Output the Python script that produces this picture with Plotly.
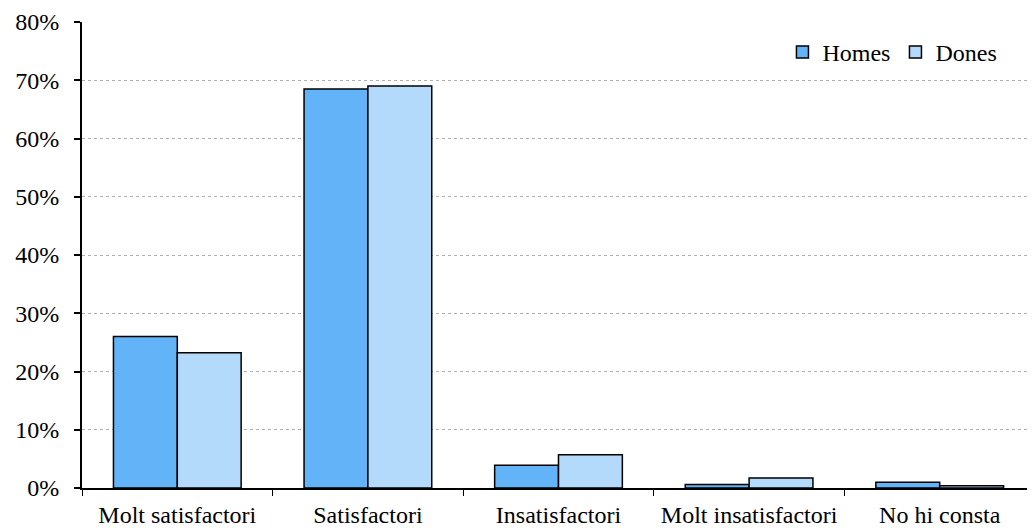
import plotly.graph_objects as go

categories = ["Molt satisfactori", "Satisfactori", "Insatisfactori", "Molt insatisfactori", "No hi consta"]
homes = [26.0, 68.5, 3.9, 0.6, 1.0]
dones = [23.2, 69.0, 5.7, 1.7, 0.4]
y_ticks = [0, 10, 20, 30, 40, 50, 60, 70, 80]
y_labels = [f"{v}%" for v in y_ticks]

FONT = "Liberation Serif, Times New Roman, serif"
FS = 24

fig = go.Figure()
fig.add_trace(go.Bar(x=categories, y=homes, name="Homes",
                     marker=dict(color="#63b3f8", line=dict(color="black", width=1.5))))
fig.add_trace(go.Bar(x=categories, y=dones, name="Dones",
                     marker=dict(color="#b3d9fb", line=dict(color="black", width=1.5))))

fig.update_layout(
    width=1035, height=528,
    margin=dict(l=74, r=8, t=14, b=48, autoexpand=False),
    plot_bgcolor="white", paper_bgcolor="white",
    font=dict(family=FONT, size=FS, color="black"),
    barmode="group", bargap=0.33, bargroupgap=0,
    showlegend=True,
    legend=dict(orientation="h", x=0.735, y=0.935, xanchor="left", yanchor="middle",
                bgcolor="rgba(0,0,0,0)", font=dict(family=FONT, size=FS), itemwidth=30,
                traceorder="normal"),
)
fig.update_xaxes(showline=True, linecolor="black", linewidth=2,
                 ticks="outside", tickson="boundaries", ticklen=6, tickcolor="black",
                 tickwidth=1, showgrid=False, tickfont=dict(family=FONT, size=FS),
                 ticklabelstandoff=4, tickangle=0, automargin=False)
fig.update_yaxes(range=[0, 80], tickvals=y_ticks, ticktext=y_labels,
                 showline=True, linecolor="black", linewidth=2,
                 ticks="outside", ticklen=6, tickcolor="black", tickwidth=2,
                 showgrid=True, gridcolor="#b0b0b0", griddash="dot", gridwidth=1,
                 zeroline=False, tickfont=dict(family=FONT, size=FS),
                 ticklabelstandoff=10, automargin=False)

fig.write_html("out.html")
